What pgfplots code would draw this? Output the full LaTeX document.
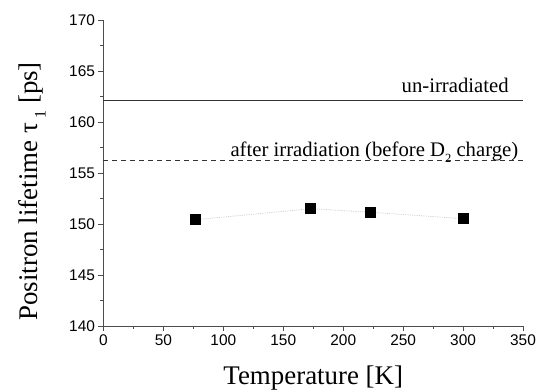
\documentclass[border=0pt]{standalone}
\usepackage{fontspec}
\setmainfont{Liberation Serif}
\setsansfont{Liberation Sans}
\usepackage{pgfplots}
\pgfplotsset{compat=1.18}
\newcommand\lsubA[1]{\raisebox{-0.3em}{\fontsize{12.5}{13}\selectfont #1}}
\newcommand\lsubB[1]{\raisebox{-0.3em}{\fontsize{16}{17}\selectfont #1}}
\begin{document}
\begin{tikzpicture}
\useasboundingbox (-103.5bp,-66bp) rectangle (438.5bp,326bp);
\begin{axis}[
  scale only axis,
  width=419.5bp, height=306bp,
  at={(0,0)}, anchor=south west,
  xmin=0, xmax=350, ymin=140, ymax=170,
  xtick={0,50,...,350}, ytick={140,145,...,170},
  minor x tick num=1, minor y tick num=1,
  axis x line*=bottom, axis y line*=left,
  axis line style={black!70, line width=0.9pt},
  tick align=outside,
  major tick length=5bp, minor tick length=3bp,
  tick style={black!70, line width=0.8pt},
  ticklabel style={font=\sffamily\fontsize{15.5}{16}\selectfont},
  /pgf/number format/assume math mode=true,
  xlabel={Temperature [K]},
  ylabel={Positron lifetime τ\,\lsubB{1} [ps]},
  label style={font=\fontsize{27}{29}\selectfont},
  xlabel style={at={(axis description cs:0.5,-0.19)}, anchor=base},
  ylabel style={at={(axis description cs:-0.170,0.44)}, anchor=center},
  clip=false,
]
\addplot[black!80, line width=0.9pt, forget plot] coordinates {(0,162.1) (350,162.1)};
\addplot[black!80, line width=0.9pt, dashed, dash pattern=on 5bp off 4bp, forget plot] coordinates {(0,156.2) (350,156.2)};
\addplot[black!20, densely dotted, line width=0.8pt, mark=square*, mark size=5bp, mark options={solid, fill=black, draw=black}]
  coordinates {(77,150.42) (173,151.5) (223,151.15) (300,150.52)};
\node[anchor=base east, font=\fontsize{20.8}{22}\selectfont] at (axis cs:341,162.1) [yshift=8.5bp] {un-irradiated};
\node[anchor=base east, font=\fontsize{20.8}{22}\selectfont] at (axis cs:349,156.2) [yshift=4.5bp] {after irradiation (before D\lsubA{2} charge)};
\end{axis}
\end{tikzpicture}
\end{document}
